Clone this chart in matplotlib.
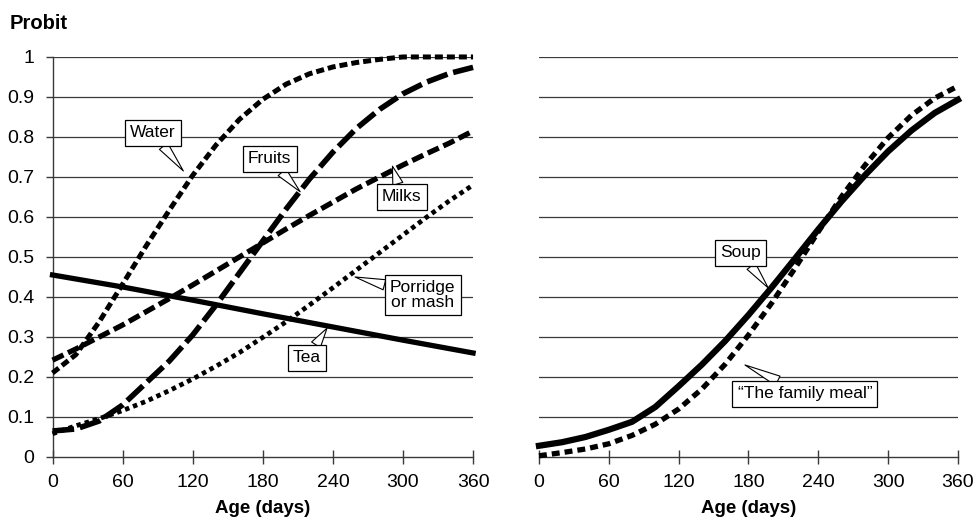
import numpy as np
import matplotlib
matplotlib.use('Agg')
import matplotlib.pyplot as plt

plt.rcParams['font.family'] = ['Liberation Sans', 'DejaVu Sans']

# age in days, shared by the curves (read every 20 days)
age = [0, 20, 40, 60, 80, 100, 120, 140, 160, 180, 200, 220, 240, 260, 280, 300, 320, 340, 360]

# left panel
water = [0.21, 0.256, 0.338, 0.432, 0.527, 0.617, 0.704, 0.78, 0.844, 0.894,
         0.932, 0.958, 0.975, 0.986, 0.994, 1.0, 1.0, 1.0, 1.0]
fruits = [0.065, 0.07, 0.09, 0.13, 0.185, 0.24, 0.305, 0.38, 0.46, 0.54,
          0.62, 0.695, 0.762, 0.821, 0.869, 0.908, 0.937, 0.959, 0.974]
milks = [0.242, 0.27, 0.30, 0.33, 0.363, 0.396, 0.43, 0.465, 0.50, 0.535,
         0.57, 0.604, 0.637, 0.67, 0.70, 0.73, 0.758, 0.785, 0.815]
porridge = [0.058, 0.078, 0.096, 0.116, 0.139, 0.166, 0.195, 0.227, 0.261, 0.299,
            0.338, 0.38, 0.423, 0.467, 0.511, 0.555, 0.599, 0.641, 0.68]
tea_age = [0, 60, 120, 180, 240, 300, 360]
tea = [0.455, 0.425, 0.392, 0.358, 0.325, 0.292, 0.26]

# right panel
soup = [0.028, 0.037, 0.05, 0.068, 0.088, 0.125, 0.177, 0.231, 0.29, 0.355,
        0.424, 0.496, 0.569, 0.639, 0.704, 0.764, 0.816, 0.86, 0.893]
family = [0.003, 0.011, 0.02, 0.033, 0.054, 0.082, 0.12, 0.17, 0.232, 0.305,
          0.385, 0.472, 0.563, 0.651, 0.729, 0.798, 0.854, 0.897, 0.927]

xticks = [0, 60, 120, 180, 240, 300, 360]
yticks = [0, 0.1, 0.2, 0.3, 0.4, 0.5, 0.6, 0.7, 0.8, 0.9, 1]
ytick_labels = ['0', '0.1', '0.2', '0.3', '0.4', '0.5', '0.6', '0.7', '0.8', '0.9', '1']

fig = plt.figure(figsize=(9.78, 5.24), dpi=100)
ax1 = fig.add_axes([0.0537, 0.1279, 0.430, 0.7634])
ax2 = fig.add_axes([0.5511, 0.1279, 0.4284, 0.7634])

grid_col = '#3a3a3a'
for ax in (ax1, ax2):
    ax.set_xlim(0, 360)
    ax.set_ylim(0, 1)
    ax.set_xticks(xticks)
    ax.set_yticks(yticks)
    for y in yticks[1:]:
        ax.axhline(y, color=grid_col, lw=0.9, zorder=1)
    for s in ['top', 'right']:
        ax.spines[s].set_visible(False)
    ax.spines['bottom'].set_color(grid_col)
    ax.spines['bottom'].set_linewidth(1.0)
    ax.tick_params(axis='x', direction='inout', length=10, width=1.0, color=grid_col,
                   labelsize=14, pad=7)
    ax.set_xlabel('Age (days)', fontsize=13.5, fontweight='bold', labelpad=7)

ax1.spines['left'].set_color(grid_col)
ax1.spines['left'].set_linewidth(1.0)
ax1.set_yticklabels(ytick_labels)
ax1.tick_params(axis='y', direction='out', length=5, width=1.0, color=grid_col,
                labelsize=14, pad=8)
ax2.spines['left'].set_visible(False)
ax2.tick_params(axis='y', left=False, labelleft=False)

fig.text(0.010, 0.955, 'Probit', fontsize=14.5, fontweight='bold', ha='left', va='center')

k = 'black'
ax1.plot(age, water, color=k, lw=3.6, ls=(0, (1.6, 0.8)), zorder=3, clip_on=False)
ax1.plot(age, fruits, color=k, lw=4.0, ls=(0, (3.9, 1.07)), zorder=3, clip_on=False)
ax1.plot(age, milks, color=k, lw=3.8, ls=(0, (2.3, 0.95)), zorder=3, clip_on=False)
ax1.plot(age, porridge, color=k, lw=3.4, ls=(0, (0.95, 0.85)), zorder=3, clip_on=False)
ax1.plot(tea_age, tea, color=k, lw=3.8, zorder=3, clip_on=False)

ax2.plot(age, soup, color=k, lw=4.5, zorder=3, clip_on=False)
ax2.plot(age, family, color=k, lw=3.8, ls=(0, (1.5, 0.95)), zorder=3, clip_on=False)


def callout(ax, text, tip, pos):
    ax.annotate(text, xy=tip, xytext=pos, ha='center', va='center', fontsize=12.5,
                linespacing=0.95, zorder=5,
                bbox=dict(boxstyle='square,pad=0.3', fc='white', ec='black', lw=0.9),
                arrowprops=dict(arrowstyle='wedge,tail_width=0.6,shrink_factor=0.5',
                                fc='white', ec='black', lw=0.8,
                                shrinkA=0, shrinkB=0))


callout(ax1, 'Water', (112, 0.715), (86, 0.81))
callout(ax1, 'Fruits', (212, 0.663), (186, 0.745))
callout(ax1, 'Milks', (291, 0.727), (299, 0.65))
callout(ax1, 'Porridge\nor mash', (259, 0.45), (317, 0.405))
callout(ax1, 'Tea', (235, 0.322), (218, 0.2475))
callout(ax2, 'Soup', (197, 0.4225), (173.5, 0.51))
callout(ax2, '\u201cThe family meal\u201d', (177, 0.23), (228.5, 0.1575))

fig.savefig('out.png', dpi=100)
